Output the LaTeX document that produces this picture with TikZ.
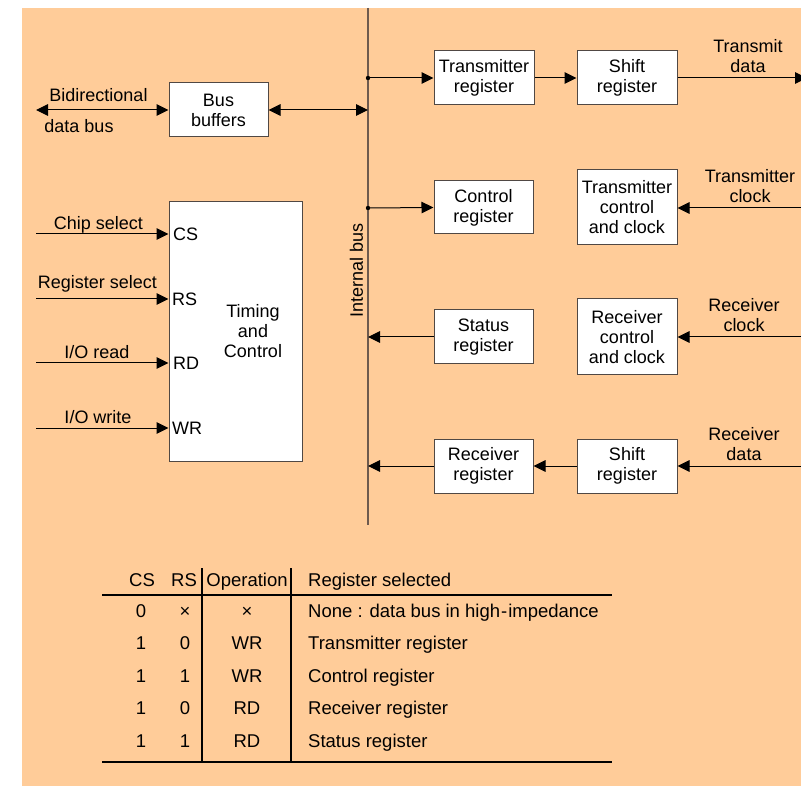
\documentclass[tikz,border=0pt]{standalone}
\usepackage{fontspec}
\setmainfont{Liberation Sans}
\usetikzlibrary{arrows.meta}
\definecolor{peach}{RGB}{255,204,153}
\definecolor{busline}{RGB}{110,90,78}
\definecolor{boxline}{RGB}{80,72,68}

\begin{document}
\begin{tikzpicture}[x=1pt,y=-1pt,
  every node/.style={font=\fontsize{18}{20}\selectfont},
  block/.style={draw=boxline,line width=1pt,fill=white,inner sep=0pt,align=center,
    minimum width=100pt,minimum height=54pt},
  ctlblock/.style={block,minimum height=75pt},
  lbl/.style={inner sep=0pt,align=center},
  baselbl/.style={inner sep=0pt,anchor=base},
  tablbl/.style={baselbl,font=\fontsize{18.5}{20}\selectfont},
  sig/.style={line width=1pt,-{Triangle[length=12pt,width=11.5pt]}},
  bisig/.style={line width=1pt,{Triangle[length=12pt,width=11.5pt]}-{Triangle[length=12pt,width=11.5pt]}},
  rule/.style={line width=2.5pt},
  colrule/.style={line width=2pt},
]
% page and background
\useasboundingbox (0,0) rectangle (801,786);
\fill[peach] (22,8) rectangle (801,786);

% internal bus
\coordinate (bustop) at (368,8);
\coordinate (busbot) at (368,525);
\draw[busline,line width=1.2pt] (bustop) -- (busbot);
\node[lbl,rotate=90] (buslbl) at (356.5,270.5) {Internal bus};

% blocks
\node[block,minimum width=99pt] (busbuf) at (218.5,110) {Bus\\buffers};
\node[block] (txreg) at (484,78) {Transmitter\\register};
\node[block] (txshift) at (627,78) {Shift\\register};
\node[block,minimum width=99pt,minimum height=53pt] (ctrlreg) at (483.5,207.5) {Control\\register};
\node[ctlblock] (txctl) at (627,207.5) {Transmitter\\control\\and clock};
\node[block,minimum width=99pt] (statreg) at (483.5,337) {Status\\register};
\node[ctlblock,minimum height=76pt] (rxctl) at (627,337) {Receiver\\control\\and clock};
\node[block,minimum width=99pt] (rxreg) at (483.5,466) {Receiver\\register};
\node[block] (rxshift) at (627,466) {Shift\\register};
\node[block,minimum width=133pt,minimum height=259pt] (timing) at (235.5,331.5) {};
\node[lbl] (timinglbl) at (253,331) {Timing\\and\\Control};

% data bus side
\coordinate (dbus) at (36,110);
\draw[bisig] (dbus) -- (busbuf.west);
\node[baselbl] (bidir) at (98.5,101.5) {Bidirectional};
\node[baselbl] (dbuslbl) at (79,133) {data bus};
\draw[bisig] (busbuf.east) -- (busbuf.east -| bustop);

% transmitter path
\coordinate (tap1) at (368,78);
\coordinate (tap2) at (368,208);
\fill (tap1) circle (2.2pt);
\fill (tap2) circle (2.2pt);
\draw[sig] (tap1) -- (txreg.west);
\draw[sig] (txreg) -- (txshift);
\coordinate (txout) at (807,78);
\draw[sig] (txshift.east) -- (txout);
\node[lbl] (txdata) at (748,56.5) {Transmit\\data};

% control path
\draw[sig] (tap2) -- (ctrlreg.west);
\coordinate (txclk) at (801,208);
\draw[sig] (txclk) -- (txctl.east |- txclk);
\node[lbl] (txclklbl) at (750,186) {Transmitter\\clock};

% status path
\draw[sig] (statreg.west) -- (statreg.west -| bustop);
\coordinate (rxclk) at (801,337);
\draw[sig] (rxclk) -- (rxctl.east);
\node[lbl] (rxclklbl) at (744,315) {Receiver\\clock};

% receiver path
\draw[sig] (rxreg.west) -- (rxreg.west -| bustop);
\draw[sig] (rxshift) -- (rxreg);
\coordinate (rxin) at (801,466);
\draw[sig] (rxin) -- (rxshift.east);
\node[lbl] (rxdatalbl) at (744,444.5) {Receiver\\data};

% control inputs
\coordinate (csin) at (36,234);
\coordinate (rsin) at (36,299);
\coordinate (rdin) at (36,363);
\coordinate (wrin) at (36,428);
\draw[sig] (csin) -- (csin -| timing.west);
\draw[sig] (rsin) -- (rsin -| timing.west);
\draw[sig] (rdin) -- (rdin -| timing.west);
\draw[sig] (wrin) -- (wrin -| timing.west);
\node[baselbl] (cslbl) at (98.5,230) {Chip select};
\node[baselbl] (rslbl) at (97.5,289) {Register select};
\node[baselbl] (rdlbl) at (97,359) {I/O read};
\node[baselbl] (wrlbl) at (98,424) {I/O write};
\node[baselbl,anchor=base west] (cspin) at (173,240.5) {CS};
\node[baselbl,anchor=base west] (rspin) at (172,305.5) {RS};
\node[baselbl,anchor=base west] (rdpin) at (173,369.5) {RD};
\node[baselbl,anchor=base west] (wrpin) at (172,434.5) {WR};

% register select table
\coordinate (tl) at (102,595);
\coordinate (tr) at (612,595);
\coordinate (bl) at (102,762);
\coordinate (br) at (612,762);
\coordinate (c1top) at (202,568);
\coordinate (c2top) at (291,568);
\draw[rule] (tl) -- (tr);
\draw[rule] (bl) -- (br);
\draw[colrule] (c1top) -- (c1top |- bl);
\draw[colrule] (c2top) -- (c2top |- bl);
\node[tablbl] (hcs) at (142,586) {CS};
\node[tablbl] (hrs) at (184,586) {RS};
\node[tablbl] (hop) at (247,586) {Operation};
\node[tablbl,anchor=base west] (hreg) at (308,586) {Register selected};
\foreach \cs/\rs/\op/\reg [count=\i from 0] in {
    0/\texttimes/\texttimes/None : data bus in high{\kern1pt}-{\kern1pt}impedance,
    1/0/WR/Transmitter register,
    1/1/WR/Control register,
    1/0/RD/Receiver register,
    1/1/RD/Status register}{
  \pgfmathsetmacro{\rowy}{617+32.5*\i}
  \node[tablbl] (rcs\i) at (141,\rowy) {\cs};
  \node[tablbl] (rrs\i) at (185,\rowy) {\rs};
  \node[tablbl] (rop\i) at (247,\rowy) {\op};
  \node[tablbl,anchor=base west] (rreg\i) at (308,\rowy) {\reg};
}
\end{tikzpicture}
\end{document}
